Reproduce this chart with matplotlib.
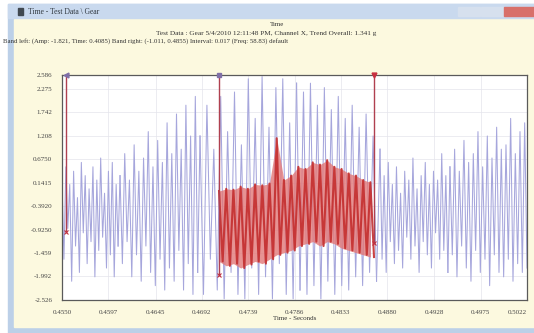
# Imports =====================================================================
import numpy as np
import matplotlib
matplotlib.use("Agg")
import matplotlib.pyplot as plt
from matplotlib.patches import Rectangle

# Data ========================================================================
t_start = 0.4550
t_end = 0.5022

# raw signal
# segment edges in seconds
seg_edges = [0.4550, 0.46089, 0.46901, 0.47916, 0.48728, 0.49438, 0.5022]
sig_a = [0.2, -1.6, 0.5, -0.9, 0.1, -2.1, 0.4, -1.3, -0.2, -1.9, 0.6, -1.0,
         0.3, -1.7, 0.0, -1.2, 0.5, -2.0, 0.2, -1.4, 0.7, -1.1, -0.1, -1.8,
         0.4, -1.5, 0.6, -2.0, 0.1, -1.3]
sig_b = [0.3, -1.7, 0.8, -1.2, 0.2, -2.0, 1.0, -1.5, 0.4, -2.1, 0.7, -1.3,
         1.3, -1.9, 0.5, -2.2, 1.1, -1.6, 0.6, -2.3, 1.5, -1.8, 0.8, -2.1,
         1.7, -1.4, 0.9, -2.3, 1.9, -1.7, 1.2, -2.4, 2.1, -1.9]
sig_c = [1.2, -2.4, 1.9, -1.6, 0.9, -2.3, 2.1, -2.5, 1.3, -1.9, 2.2, -2.4,
         1.0, -2.5, 2.5, -1.8, 1.6, -2.4, 2.55, -2.0, 1.4, -2.5, 2.3, -1.7,
         2.5, -2.4, 1.5, -2.5, 2.4]
sig_d = [-2.3, 2.2, -2.4, 2.4, -2.2, 1.9, -2.5, 2.3, -2.1, 1.8, -2.4, 2.1,
         -2.2, 1.6, -2.3, 1.9, -2.0, 1.4, -2.2, 1.7, -1.9, 1.2, -2.1]
sig_e = [0.9, -1.6, 0.3, -1.9, 0.6, -1.2, 0.1, -1.7, 0.5, -1.4, -0.1, -1.8,
         0.4, -1.1, 0.2, -1.6, 0.7, -1.3, 0.0, -1.9, 0.3, -1.2, 0.6, -1.5,
         0.1, -1.8, 0.4, -1.0, 0.2, -1.6, 0.8, -1.4, 0.3, -1.9]
sig_f = [0.5, -1.5, 0.9, -2.0, 0.4, -1.3, 1.1, -1.8, 0.6, -2.1, 0.8, -1.4,
         1.3, -1.9, 0.5, -1.6, 1.2, -2.2, 0.7, -1.5, 1.4, -1.9, 0.9, -2.0,
         1.0, -1.6, 1.6, -2.1, 0.8, -1.7, 1.3, -1.9, 1.5, -1.8]
segments = [sig_a, sig_b, sig_c, sig_d, sig_e, sig_f]

# band between the cursors
band_left = 0.47094
band_right = 0.48667
band = [-0.05, -1.65, 0.0, -1.75, -0.02, -1.7, 0.05, -1.8, 0.0, -1.72, 0.1,
        -1.65, 0.08, -1.7, 0.12, -1.6, 1.15, -1.5, 0.2, -1.45, 0.3, -1.4,
        0.5, -1.3, 0.45, -1.25, 0.6, -1.2, 0.55, -1.3, 0.65, -1.2, 0.5,
        -1.25, 0.45, -1.35, 0.35, -1.4, 0.3, -1.45, 0.2, -1.5, 0.15, -1.55]

# cursors: x, top, bottom
cursor_edge = (0.45541, 2.586, -0.981)
cursor_left = (band_left, 2.586, -1.958)
cursor_right = (band_right, 2.586, -1.231)

x_ticks = [0.4550, 0.4597, 0.4645, 0.4692, 0.4739, 0.4786, 0.4833, 0.4880,
           0.4928, 0.4975, 0.5022]
y_ticks = [2.586, 2.275, 1.742, 1.208, 0.675, 0.1415, -0.392, -0.925,
           -1.459, -1.992, -2.526]
y_labels = ["2.586", "2.275", "1.742", "1.208", "0.6750", "0.1415",
            "-0.3920", "-0.9250", "-1.459", "-1.992", "-2.526"]

title = "Time"
line2 = "Test Data : Gear 5/4/2010 12:11:48 PM, Channel X, Trend Overall: 1.341 g"
line3 = ("Band left: (Amp: -1.821, Time: 0.4085) Band right: (-1.011, 0.4855) "
         "Interval: 0.017 (Freq: 58.83) default")
win_title = "Time - Test Data \\ Gear"

# Figure ======================================================================
W, H = 534, 333
fig = plt.figure(figsize=(W / 100, H / 100), dpi=100, facecolor="white")
serif = ["Liberation Serif", "DejaVu Serif"]


def px_rect(x0, y0, x1, y1, z=-5, **kw):
    fig.patches.append(Rectangle((x0 / W, 1 - y1 / H), (x1 - x0) / W,
                                 (y1 - y0) / H, transform=fig.transFigure,
                                 zorder=z, **kw))


# window chrome
px_rect(8, 4, 534, 333, z=-5, color="#bcd0e8")
px_rect(14, 19, 534, 327, z=-4, color="#fcf9df")
px_rect(8, 4, 534, 18, z=-4, color="#c9d9ee")
px_rect(18, 8, 23, 15, z=-3, color="#404850")
px_rect(458, 7, 480, 16, z=-3, color="#d6e0ee")
px_rect(481, 7, 503, 16, z=-3, color="#d6e0ee")
px_rect(504, 7, 534, 16, z=-3, color="#d8706a")
fig.text(28 / W, 1 - 11.5 / H, win_title, fontsize=5.5, family=serif,
         color="#303840", va="center")

fig.text(277 / W, 1 - 24 / H, title, fontsize=5, family=serif,
         ha="center", va="center", color="#333333")
fig.text(266 / W, 1 - 33 / H, line2, fontsize=5.2, family=serif,
         ha="center", va="center", color="#333333")
fig.text(3 / W, 1 - 41 / H, line3, fontsize=4.9, family=serif,
         ha="left", va="center", color="#333333")

ax = fig.add_axes([62 / W, 1 - 300 / H, 465 / W, 225 / H])
ax.set_facecolor("white")

for i, seg in enumerate(segments):
    seg_t = np.linspace(seg_edges[i], seg_edges[i + 1], len(seg) + 1)[:-1]
    if i == len(segments) - 1:
        seg_t = np.linspace(seg_edges[i], seg_edges[i + 1], len(seg))
    ax.plot(seg_t, seg, color="#a6a6dc", lw=0.75, zorder=2)
    if i > 0:
        # join to previous segment
        ax.plot([prev_t, seg_t[0]], [prev_v, seg[0]], color="#a6a6dc",
                lw=0.75, zorder=2)
    prev_t, prev_v = seg_t[-1], seg[-1]

band_time = np.linspace(band_left, band_right, len(band))
ax.fill_between(band_time[::2], band[::2], band[1::2], color="#e27878",
                alpha=0.8, lw=0, zorder=3)
ax.plot(band_time, band, color="#c42e2e", lw=1.5, alpha=0.9, zorder=3)

for (cx, top, bot), mk in [(cursor_edge, "<"), (cursor_left, "s"),
                           (cursor_right, "v")]:
    ax.plot([cx, cx], [top, bot], color="#b04050", lw=1.0, zorder=4,
            clip_on=False)
    ax.plot([cx], [top], marker=mk, ms=3.5, color="#8070a8" if mk != "v"
            else "#c83040", zorder=5, clip_on=False)
    ax.plot([cx], [bot], marker="x", ms=3, mew=0.8, color="#c03040",
            zorder=5, clip_on=False)

ax.set_xlim(t_start, t_end)
ax.set_ylim(-2.526, 2.586)
ax.set_xticks(x_ticks)
ax.set_xticklabels([f"{v:.4f}" for v in x_ticks])
ax.set_yticks(y_ticks)
ax.set_yticklabels(y_labels)
ax.tick_params(length=0, labelsize=5, colors="#444444", pad=7)
for lab in ax.get_xticklabels() + ax.get_yticklabels():
    lab.set_family(serif)
ax.get_xticklabels()[-1].set_horizontalalignment("right")
ax.grid(True, color="#e4e4ec", lw=0.5)
ax.set_axisbelow(True)
for sp in ax.spines.values():
    sp.set_color("#5a5a5a")
    sp.set_linewidth(0.9)
ax.set_xlabel("Time - Seconds", fontsize=5, family=serif, color="#333333",
              labelpad=1)

fig.savefig("out.png", dpi=100, facecolor=fig.get_facecolor())
